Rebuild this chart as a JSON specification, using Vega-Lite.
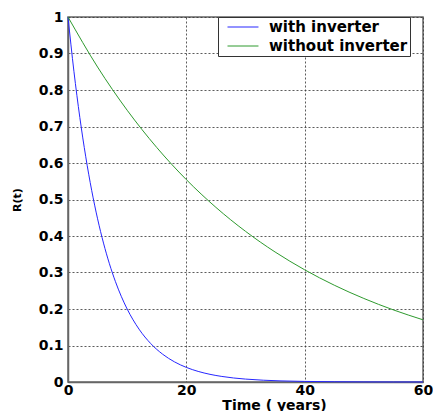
{
  "$schema": "https://vega.github.io/schema/vega-lite/v6.json",
  "autosize": {"type": "none"},
  "width": 355,
  "height": 365,
  "padding": {"left": 68, "top": 17, "right": 10, "bottom": 29},
  "background": "white",
  "config": {
    "view": {"stroke": "#666666", "strokeWidth": 1.5},
    "font": "DejaVu Sans",
    "axis": {
      "labelFont": "DejaVu Sans",
      "labelFontWeight": "bold",
      "labelFontSize": 14,
      "labelColor": "black",
      "titleFont": "DejaVu Sans",
      "titleFontWeight": "bold",
      "titleFontSize": 14,
      "titleColor": "black",
      "domainColor": "#666666",
      "domainWidth": 1.5,
      "ticks": false,
      "gridColor": "#333333",
      "gridDash": [2, 2],
      "gridOpacity": 0.8,
      "gridWidth": 1
    }
  },
  "data": {
    "values": [
      {"t": 0, "R": 1, "series": "with inverter"},
      {"t": 1, "R": 0.8513, "series": "with inverter"},
      {"t": 2, "R": 0.7247, "series": "with inverter"},
      {"t": 3, "R": 0.617, "series": "with inverter"},
      {"t": 4, "R": 0.5252, "series": "with inverter"},
      {"t": 5, "R": 0.4471, "series": "with inverter"},
      {"t": 6, "R": 0.3806, "series": "with inverter"},
      {"t": 7, "R": 0.324, "series": "with inverter"},
      {"t": 8, "R": 0.2758, "series": "with inverter"},
      {"t": 9, "R": 0.2348, "series": "with inverter"},
      {"t": 10, "R": 0.1999, "series": "with inverter"},
      {"t": 12, "R": 0.1449, "series": "with inverter"},
      {"t": 14, "R": 0.105, "series": "with inverter"},
      {"t": 16, "R": 0.0761, "series": "with inverter"},
      {"t": 18, "R": 0.0551, "series": "with inverter"},
      {"t": 20, "R": 0.04, "series": "with inverter"},
      {"t": 22, "R": 0.029, "series": "with inverter"},
      {"t": 24, "R": 0.021, "series": "with inverter"},
      {"t": 26, "R": 0.0152, "series": "with inverter"},
      {"t": 28, "R": 0.011, "series": "with inverter"},
      {"t": 30, "R": 0.008, "series": "with inverter"},
      {"t": 33, "R": 0.0049, "series": "with inverter"},
      {"t": 36, "R": 0.003, "series": "with inverter"},
      {"t": 40, "R": 0.0016, "series": "with inverter"},
      {"t": 45, "R": 0.0007, "series": "with inverter"},
      {"t": 50, "R": 0.0003, "series": "with inverter"},
      {"t": 55, "R": 0.0001, "series": "with inverter"},
      {"t": 60, "R": 0.0001, "series": "with inverter"},
      {"t": 0, "R": 1, "series": "without inverter"},
      {"t": 5, "R": 0.8629, "series": "without inverter"},
      {"t": 10, "R": 0.7446, "series": "without inverter"},
      {"t": 15, "R": 0.6425, "series": "without inverter"},
      {"t": 20, "R": 0.5544, "series": "without inverter"},
      {"t": 25, "R": 0.4784, "series": "without inverter"},
      {"t": 30, "R": 0.4128, "series": "without inverter"},
      {"t": 35, "R": 0.3562, "series": "without inverter"},
      {"t": 40, "R": 0.3074, "series": "without inverter"},
      {"t": 45, "R": 0.2652, "series": "without inverter"},
      {"t": 50, "R": 0.2289, "series": "without inverter"},
      {"t": 55, "R": 0.1975, "series": "without inverter"},
      {"t": 60, "R": 0.1704, "series": "without inverter"}
    ]
  },
  "mark": {"type": "line", "strokeWidth": 1, "interpolate": "monotone"},
  "encoding": {
    "x": {
      "field": "t",
      "type": "quantitative",
      "scale": {"domain": [0, 60], "nice": false},
      "axis": {"values": [0, 20, 40, 60], "title": "Time ( years)", "titleX": 206, "titleY": 27, "titleBaseline": "alphabetic", "labelBaseline": "alphabetic", "labelPadding": 12, "labelFlush": false}
    },
    "y": {
      "field": "R",
      "type": "quantitative",
      "scale": {"domain": [0, 1], "nice": false},
      "axis": {"values": [0, 0.1, 0.2, 0.3, 0.4, 0.5, 0.6, 0.7, 0.8, 0.9, 1], "title": "R(t)", "titleFontSize": 11, "titleX": -46, "labelExpr": "datum.value == 0 ? '0' : datum.value == 1 ? '1' : datum.label", "labelPadding": 5}
    },
    "color": {
      "field": "series",
      "type": "nominal",
      "scale": {"domain": ["with inverter", "without inverter"], "range": ["#2626ff", "#2e9a2e"]},
      "legend": {
        "title": null,
        "orient": "none",
        "legendX": 150,
        "legendY": 0,
        "fillColor": "white",
        "strokeColor": "#333333",
        "padding": 2,
        "symbolType": "M-1,0H3.13",
        "symbolSize": 225,
        "symbolOffset": 7,
        "symbolStrokeWidth": 1,
        "labelFont": "DejaVu Sans",
        "labelFontWeight": "bold",
        "labelFontSize": 15,
        "labelColor": "black",
        "rowPadding": 3,
        "labelOffset": 26
      }
    }
  }
}
